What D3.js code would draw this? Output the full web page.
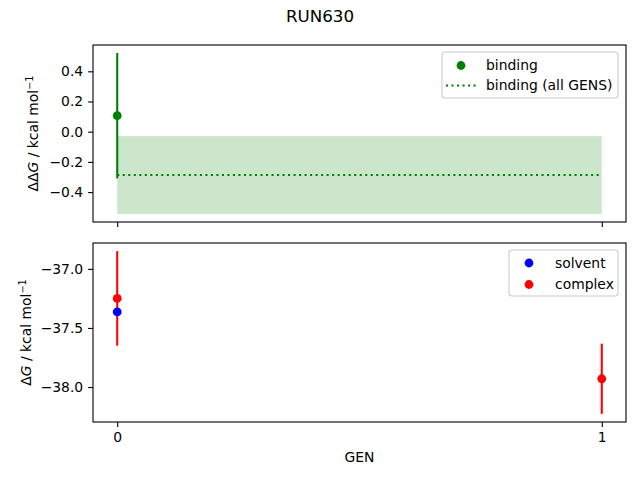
<!DOCTYPE html>
<html>
<head>
<meta charset="utf-8">
<script src="https://cdn.jsdelivr.net/npm/d3@7"></script>
<style>
body { margin: 0; background: #fff; }
text { font-family: "DejaVu Sans", sans-serif; fill: #000; }
</style>
</head>
<body>
<div id="chart"></div>
<script>
// Data
var gens = [0, 1];
var genTicks = [0, 1];

var bindingGen = [0];
var bindingVals = [0.106];
var bindingErr = [0.415];

// all-GENS estimate drawn as a dotted line with a shaded band
var bindingAllVal = -0.287;
var bindingAllErr = 0.258;

var solventGen = [0];
var solventVals = [-37.364];

var complexGen = [0, 1];
var complexVals = [-37.25, -37.93];
var complexErr = [0.40, 0.297];

var topTicks = [-0.4, -0.2, 0.0, 0.2, 0.4];
var bottomTicks = [-38.0, -37.5, -37.0];

var width = 640, height = 480;
var left = 93, right = 626;
var topPanel = { y0: 45, y1: 222 };
var botPanel = { y0: 243, y1: 422 };
var fs = 13.9;
var lw = 2.08;
var mr = 4.4;

var svg = d3.select("#chart").append("svg")
    .attr("width", width)
    .attr("height", height);

// matplotlib style 5% margins
function padded(lo, hi) {
    var m = (hi - lo) * 0.05;
    return [lo - m, hi + m];
}

var x = d3.scaleLinear().domain(padded(d3.min(gens), d3.max(gens))).range([left, right]);

// top panel domain
var topLo = d3.min([d3.min(bindingVals.map(function (v, i) { return v - bindingErr[i]; })), bindingAllVal - bindingAllErr]);
var topHi = d3.max([d3.max(bindingVals.map(function (v, i) { return v + bindingErr[i]; })), bindingAllVal + bindingAllErr]);
var yTop = d3.scaleLinear().domain(padded(topLo, topHi)).range([topPanel.y1, topPanel.y0]);

var botLo = d3.min(complexVals.map(function (v, i) { return v - complexErr[i]; }).concat(solventVals));
var botHi = d3.max(complexVals.map(function (v, i) { return v + complexErr[i]; }).concat(solventVals));
var yBot = d3.scaleLinear().domain(padded(botLo, botHi)).range([botPanel.y1, botPanel.y0]);

var tickLen = 4.9, tickPad = 4.9;

function styleAxis(g) {
    g.select(".domain").remove();
    g.selectAll(".tick line").attr("stroke", "#000").attr("stroke-width", 1.1);
    g.selectAll(".tick text").style("font-family", "DejaVu Sans").style("font-size", fs + "px").attr("fill", "#000");
}

// title
svg.append("text")
    .attr("x", width / 2)
    .attr("y", 22)
    .attr("text-anchor", "middle")
    .style("font-size", "16.7px")
    .text("RUN630");

// ---------- top panel ----------
var gTop = svg.append("g");

// shaded band for all-GENS
gTop.append("rect")
    .attr("x", x(d3.min(gens)))
    .attr("width", x(d3.max(gens)) - x(d3.min(gens)))
    .attr("y", yTop(bindingAllVal + bindingAllErr))
    .attr("height", yTop(bindingAllVal - bindingAllErr) - yTop(bindingAllVal + bindingAllErr))
    .attr("fill", "green")
    .attr("fill-opacity", 0.2);

gTop.append("line")
    .attr("x1", x(d3.min(gens))).attr("x2", x(d3.max(gens)))
    .attr("y1", yTop(bindingAllVal)).attr("y2", yTop(bindingAllVal))
    .attr("stroke", "green")
    .attr("stroke-width", lw)
    .attr("stroke-dasharray", "2.08,3.43");

gTop.selectAll(".berr").data(bindingGen).enter().append("line")
    .attr("x1", function (d) { return x(d); })
    .attr("x2", function (d) { return x(d); })
    .attr("y1", function (d, i) { return yTop(bindingVals[i] + bindingErr[i]); })
    .attr("y2", function (d, i) { return yTop(bindingVals[i] - bindingErr[i]); })
    .attr("stroke", "green")
    .attr("stroke-width", lw);

gTop.selectAll(".bpt").data(bindingGen).enter().append("circle")
    .attr("cx", function (d) { return x(d); })
    .attr("cy", function (d, i) { return yTop(bindingVals[i]); })
    .attr("r", mr)
    .attr("fill", "green");

gTop.append("g")
    .attr("transform", "translate(" + left + ",0)")
    .call(d3.axisLeft(yTop).tickValues(topTicks).tickSize(tickLen).tickPadding(tickPad).tickFormat(d3.format(".1f")))
    .call(styleAxis);

gTop.append("g")
    .attr("transform", "translate(0," + topPanel.y1 + ")")
    .call(d3.axisBottom(x).tickValues(genTicks).tickSize(tickLen).tickFormat(""))
    .call(styleAxis);

gTop.append("rect")
    .attr("x", left).attr("y", topPanel.y0)
    .attr("width", right - left).attr("height", topPanel.y1 - topPanel.y0)
    .attr("fill", "none").attr("stroke", "#000").attr("stroke-width", 1.1);

var lblTop = svg.append("text")
    .attr("transform", "translate(38," + ((topPanel.y0 + topPanel.y1) / 2) + ") rotate(-90)")
    .attr("text-anchor", "middle")
    .style("font-size", fs + "px");
lblTop.append("tspan").text("ΔΔ");
lblTop.append("tspan").style("font-style", "italic").text("G");
lblTop.append("tspan").text(" / kcal mol");
lblTop.append("tspan").attr("dy", -5.5).style("font-size", "9.7px").text("−1");

// legend top
var legTop = svg.append("g");
legTop.append("rect")
    .attr("x", 442).attr("y", 52).attr("width", 176).attr("height", 46)
    .attr("rx", 3)
    .attr("fill", "#fff").attr("fill-opacity", 0.8)
    .attr("stroke", "#ccc").attr("stroke-width", 1.1);
legTop.append("circle").attr("cx", 461).attr("cy", 65.5).attr("r", mr).attr("fill", "green");
legTop.append("line")
    .attr("x1", 446).attr("x2", 476).attr("y1", 85.5).attr("y2", 85.5)
    .attr("stroke", "green").attr("stroke-width", lw).attr("stroke-dasharray", "2.08,3.43");
legTop.append("text").attr("x", 486).attr("y", 70.3).style("font-size", fs + "px").text("binding");
legTop.append("text").attr("x", 486).attr("y", 90.3).style("font-size", fs + "px").text("binding (all GENS)");

// ---------- bottom panel ----------
var gBot = svg.append("g");

gBot.selectAll(".cerr").data(complexGen).enter().append("line")
    .attr("x1", function (d) { return x(d); })
    .attr("x2", function (d) { return x(d); })
    .attr("y1", function (d, i) { return yBot(complexVals[i] + complexErr[i]); })
    .attr("y2", function (d, i) { return yBot(complexVals[i] - complexErr[i]); })
    .attr("stroke", "red")
    .attr("stroke-width", lw);

gBot.selectAll(".spt").data(solventGen).enter().append("circle")
    .attr("cx", function (d) { return x(d); })
    .attr("cy", function (d, i) { return yBot(solventVals[i]); })
    .attr("r", mr)
    .attr("fill", "blue");

gBot.selectAll(".cpt").data(complexGen).enter().append("circle")
    .attr("cx", function (d) { return x(d); })
    .attr("cy", function (d, i) { return yBot(complexVals[i]); })
    .attr("r", mr)
    .attr("fill", "red");

gBot.append("g")
    .attr("transform", "translate(" + left + ",0)")
    .call(d3.axisLeft(yBot).tickValues(bottomTicks).tickSize(tickLen).tickPadding(tickPad).tickFormat(d3.format(".1f")))
    .call(styleAxis);

gBot.append("g")
    .attr("transform", "translate(0," + botPanel.y1 + ")")
    .call(d3.axisBottom(x).tickValues(genTicks).tickSize(tickLen).tickPadding(tickPad).tickFormat(d3.format("d")))
    .call(styleAxis);

gBot.append("rect")
    .attr("x", left).attr("y", botPanel.y0)
    .attr("width", right - left).attr("height", botPanel.y1 - botPanel.y0)
    .attr("fill", "none").attr("stroke", "#000").attr("stroke-width", 1.1);

var lblBot = svg.append("text")
    .attr("transform", "translate(31," + ((botPanel.y0 + botPanel.y1) / 2) + ") rotate(-90)")
    .attr("text-anchor", "middle")
    .style("font-size", fs + "px");
lblBot.append("tspan").text("Δ");
lblBot.append("tspan").style("font-style", "italic").text("G");
lblBot.append("tspan").text(" / kcal mol");
lblBot.append("tspan").attr("dy", -5.5).style("font-size", "9.7px").text("−1");

svg.append("text")
    .attr("x", (left + right) / 2)
    .attr("y", 462)
    .attr("text-anchor", "middle")
    .style("font-size", fs + "px")
    .text("GEN");

// legend bottom
var legBot = svg.append("g");
legBot.append("rect")
    .attr("x", 509).attr("y", 250).attr("width", 109).attr("height", 46)
    .attr("rx", 3)
    .attr("fill", "#fff").attr("fill-opacity", 0.8)
    .attr("stroke", "#ccc").attr("stroke-width", 1.1);
legBot.append("circle").attr("cx", 529).attr("cy", 263).attr("r", mr).attr("fill", "blue");
legBot.append("circle").attr("cx", 529).attr("cy", 284.5).attr("r", mr).attr("fill", "red");
legBot.append("text").attr("x", 555).attr("y", 267.5).style("font-size", fs + "px").text("solvent");
legBot.append("text").attr("x", 555).attr("y", 288.5).style("font-size", fs + "px").text("complex");
</script>
</body>
</html>
